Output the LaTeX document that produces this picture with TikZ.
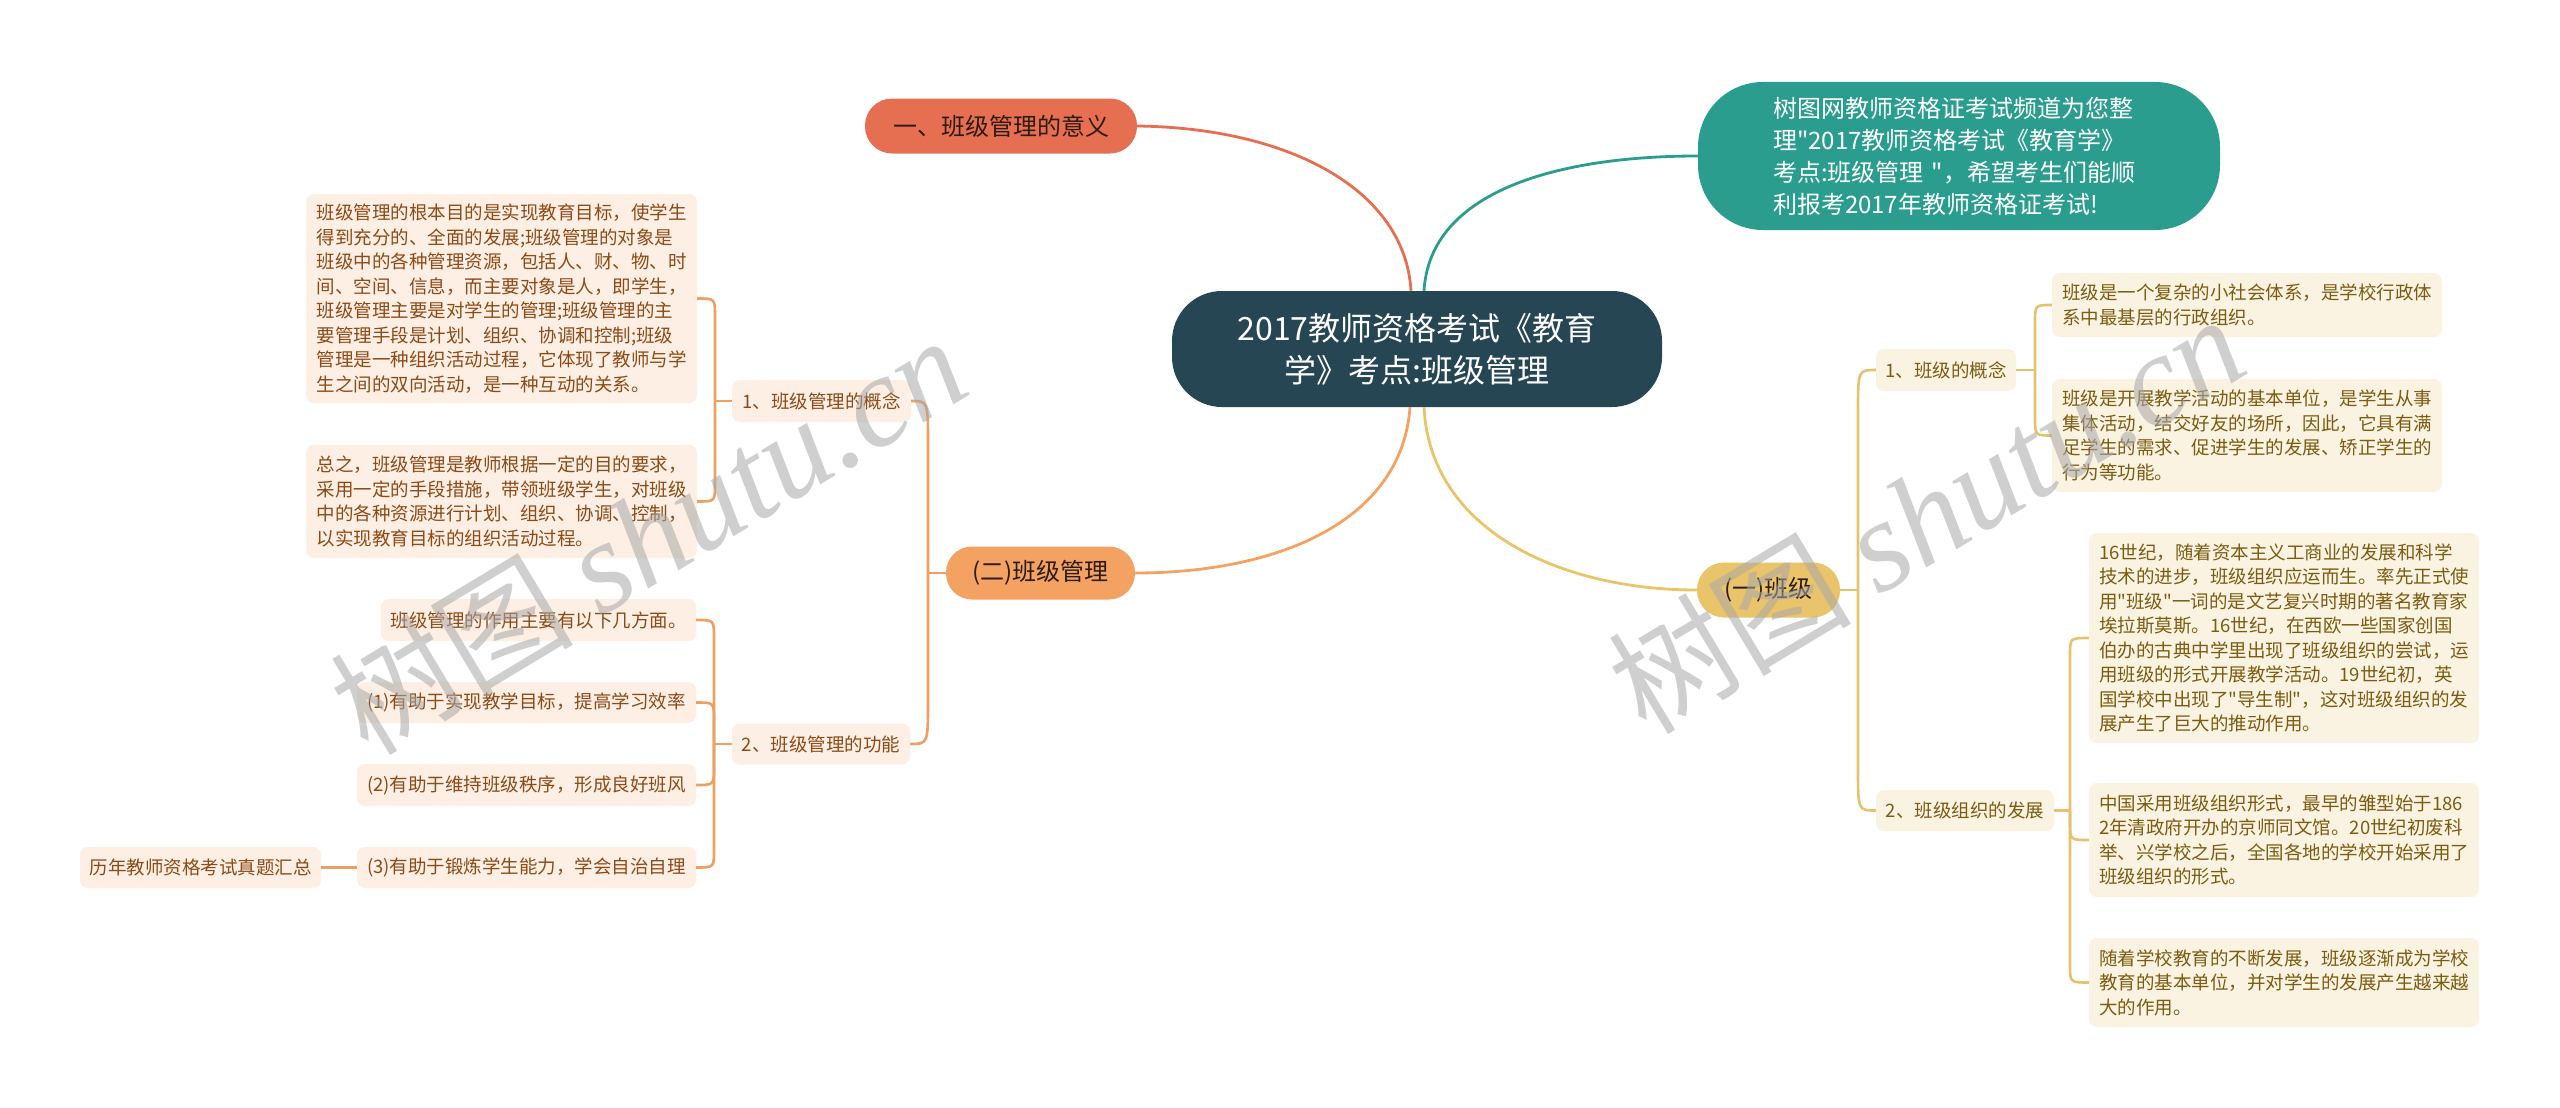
\documentclass[tikz,border=0pt]{standalone}
\usepackage{fontspec}
\setmainfont{Noto Sans CJK SC}[Ligatures=TeXOff]
\newfontfamily\wmserif{Liberation Serif}[Ligatures=TeXOff]
\usetikzlibrary{calc}
\definecolor{cDark}{HTML}{264653}
\definecolor{cTeal}{HTML}{2A9D8F}
\definecolor{cGold}{HTML}{E9C46A}
\definecolor{cSand}{HTML}{F4A261}
\definecolor{cCoral}{HTML}{E76F51}
\definecolor{lnO}{HTML}{EDA062}
\definecolor{lnG}{HTML}{E4C26E}
\definecolor{lfO}{HTML}{FDEFE4}
\definecolor{lfG}{HTML}{FBF3E2}
\definecolor{txO}{HTML}{8C4A17}
\definecolor{txG}{HTML}{7A5C12}
\definecolor{txM}{HTML}{2E1B10}
\definecolor{wmGray}{HTML}{A8A8A8}
\newcommand\fsSmall{\fontsize{18.5}{24.5}\selectfont}
\newcommand\fsMid{\fontsize{24}{32}\selectfont}
\newcommand\fsBig{\fontsize{32}{42}\selectfont}
\begin{document}
\begin{tikzpicture}[x=1pt,y=-1pt,
  leafO/.style={fill=lfO, text=txO, rounded corners=8pt, inner sep=0pt, align=left, font=\fsSmall},
  leafG/.style={fill=lfG, text=txG, rounded corners=8pt, inner sep=0pt, align=left, font=\fsSmall},
  mainnode/.style={inner sep=0pt, align=center, font=\fsMid, text=txM},
  lineO/.style={draw=lnO, line width=2.6pt},
  lineG/.style={draw=lnG, line width=2.6pt},
  wmark/.style={text=wmGray, opacity=0.55, inner sep=0pt, rotate=31}
]
\path[use as bounding box, fill=white] (0,0) rectangle (2560,1108);

% ---- main nodes
\node[fill=cDark, text=white, rounded corners=50pt, inner sep=0pt, align=center, font=\fsBig,
  minimum width=490pt, minimum height=116pt] (root) at (1417,349) {2017教师资格考试《教育\\学》考点:班级管理};
\node[mainnode, fill=cCoral, rounded corners=27pt, minimum width=272pt, minimum height=55pt] (n1) at (1001,126) {一、班级管理的意义};
\node[fill=cTeal, text=white, rounded corners=65pt, inner sep=0pt, align=left, font=\fsMid, text width=372pt,
  minimum width=522pt, minimum height=148pt] (teal) at (1959,156)
  {树图网教师资格证考试频道为您整\\理"2017教师资格考试《教育学》\\考点:班级管理 "，希望考生们能顺\\利报考2017年教师资格证考试!};
\node[mainnode, fill=cSand, rounded corners=26pt, minimum width=189pt, minimum height=53pt] (n2) at (1040.5,573) {(二)班级管理};
\node[mainnode, fill=cGold, rounded corners=27pt, minimum width=143pt, minimum height=55pt] (n3) at (1768.5,590) {(一)班级};

% ---- left branch
\node[leafO, minimum width=179pt, minimum height=42pt] (c21) at (821.5,401) {1、班级管理的概念};
\node[leafO, minimum width=178pt, minimum height=41pt] (c22) at (821,744) {2、班级管理的功能};
\node[leafO, minimum width=391pt, minimum height=209pt] (lA) at (501.5,298.5)
 {班级管理的根本目的是实现教育目标，使学生\\得到充分的、全面的发展;班级管理的对象是\\班级中的各种管理资源，包括人、财、物、时\\间、空间、信息，而主要对象是人，即学生，\\班级管理主要是对学生的管理;班级管理的主\\要管理手段是计划、组织、协调和控制;班级\\管理是一种组织活动过程，它体现了教师与学\\生之间的双向活动，是一种互动的关系。};
\node[leafO, minimum width=391pt, minimum height=113pt] (lB) at (501.5,501.5)
 {总之，班级管理是教师根据一定的目的要求，\\采用一定的手段措施，带领班级学生，对班级\\中的各种资源进行计划、组织、协调、控制，\\以实现教育目标的组织活动过程。};
\node[leafO, minimum width=315pt, minimum height=42pt] (l10) at (538.5,620) {班级管理的作用主要有以下几方面。};
\node[leafO, minimum width=339pt, minimum height=41pt] (l11) at (526.5,702.5) {(1)有助于实现教学目标，提高学习效率};
\node[leafO, minimum width=339pt, minimum height=42pt] (l12) at (526.5,785) {(2)有助于维持班级秩序，形成良好班风};
\node[leafO, minimum width=339pt, minimum height=41pt] (l13) at (526.5,867.5) {(3)有助于锻炼学生能力，学会自治自理};
\node[leafO, minimum width=241pt, minimum height=41pt] (l14) at (200.5,867.5) {历年教师资格考试真题汇总};

% ---- right branch
\node[leafG, minimum width=140pt, minimum height=42pt] (c11) at (1946,370) {1、班级的概念};
\node[leafG, minimum width=178pt, minimum height=41pt] (c12) at (1965,810.5) {2、班级组织的发展};
\node[leafG, minimum width=390pt, minimum height=64pt] (lC) at (2247,305)
 {班级是一个复杂的小社会体系，是学校行政体\\系中最基层的行政组织。};
\node[leafG, minimum width=390pt, minimum height=113pt] (lD) at (2247,435.5)
 {班级是开展教学活动的基本单位，是学生从事\\集体活动，结交好友的场所，因此，它具有满\\足学生的需求、促进学生的发展、矫正学生的\\行为等功能。};
\node[leafG, minimum width=390pt, minimum height=210pt] (lE) at (2284,638)
 {16世纪，随着资本主义工商业的发展和科学\\技术的进步，班级组织应运而生。率先正式使\\用"班级"一词的是文艺复兴时期的著名教育家\\埃拉斯莫斯。16世纪，在西欧一些国家创国\\伯办的古典中学里出现了班级组织的尝试，运\\用班级的形式开展教学活动。19世纪初，英\\国学校中出现了"导生制"，这对班级组织的发\\展产生了巨大的推动作用。};
\node[leafG, minimum width=390pt, minimum height=114pt] (lF) at (2284,840)
 {中国采用班级组织形式，最早的雏型始于186\\2年清政府开办的京师同文馆。20世纪初废科\\举、兴学校之后，全国各地的学校开始采用了\\班级组织的形式。};
\node[leafG, minimum width=390pt, minimum height=89pt] (lG) at (2284,982.5)
 {随着学校教育的不断发展，班级逐渐成为学校\\教育的基本单位，并对学生的发展产生越来越\\大的作用。};

% ---- connectors from root
\draw[draw=cCoral, line width=2.8pt] (n1.east) .. controls (1290,128) and (1405,190) .. ($(root.north)+(-6,0)$);
\draw[draw=cTeal, line width=2.8pt] ($(root.north)+(7,0)$) .. controls (1430,190) and (1560,156) .. (teal.west);
\draw[draw=cSand, line width=2.8pt] ($(root.south)+(-7,0)$) .. controls (1402,520) and (1280,573) .. (n2.east);
\draw[draw=cGold, line width=2.8pt] ($(root.south)+(7,0)$) .. controls (1430,530) and (1560,590) .. (n3.west);

% ---- (二) bracket
\draw[lineO] (n2.west) -- (928,573);
\draw[lineO] (928,573) -- (928,446) .. controls (928,401) .. (c21.east);
\draw[lineO] (928,573) -- (928,700) .. controls (928,744) .. (c22.east);
% ---- 1 concept leaves
\draw[lineO] (c21.west) -- (715,401);
\draw[lineO] (715,401) -- (715,316) .. controls (715,298.5) .. (lA.east);
\draw[lineO] (715,401) -- (715,484) .. controls (715,501.5) .. (lB.east);
% ---- 2 function leaves
\draw[lineO] (c22.west) -- (714,744);
\draw[lineO] (714,744) -- (714,638) .. controls (714,620) .. (l10.east);
\draw[lineO] (714,744) -- (714,720) .. controls (714,702.5) .. (l11.east);
\draw[lineO] (714,744) -- (714,767) .. controls (714,785) .. (l12.east);
\draw[lineO] (714,744) -- (714,850) .. controls (714,867.5) .. (l13.east);
\draw[lineO] (l14.east) -- (l13.west);

% ---- (一) bracket
\draw[lineG] (n3.east) -- (1858,590);
\draw[lineG] (1858,590) -- (1858,412) .. controls (1858,370) .. (c11.west);
\draw[lineG] (1858,590) -- (1858,768) .. controls (1858,810.5) .. (c12.west);
\draw[lineG] (c11.east) -- (2035,370);
\draw[lineG] (2035,370) -- (2035,322) .. controls (2035,305) .. (lC.west);
\draw[lineG] (2035,370) -- (2035,418) .. controls (2035,435.5) .. (lD.west);
\draw[lineG] (c12.east) -- (2070,810.5);
\draw[lineG] (2070,810.5) -- (2070,655) .. controls (2070,638) .. (lE.west);
\draw[lineG] (2070,810.5) -- (2070,823) .. controls (2070,840) .. (lF.west);
\draw[lineG] (2070,810.5) -- (2070,965) .. controls (2070,982.5) .. (lG.west);

% ---- watermarks
\node[wmark, font=\fontsize{122}{122}\selectfont] (wm1) at (648,535) {树图 {\wmserif\itshape\fontsize{130}{130}\selectfont shutu.cn}};
\node[wmark, font=\fontsize{122}{122}\selectfont] (wm2) at (1926,514) {树图 {\wmserif\itshape\fontsize{130}{130}\selectfont shutu.cn}};
\end{tikzpicture}
\end{document}
